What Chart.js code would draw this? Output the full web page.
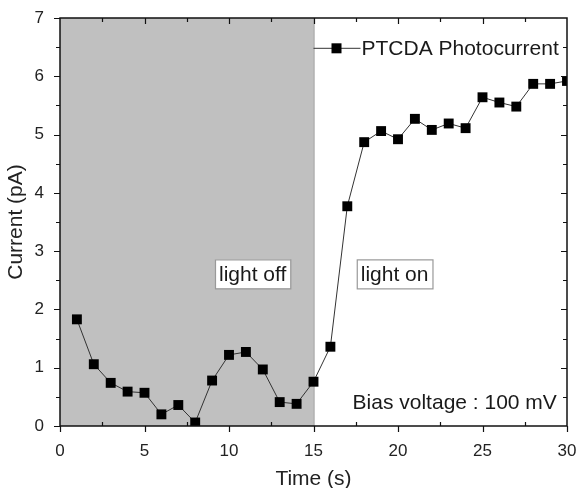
<!DOCTYPE html>
<html>
<head>
<meta charset="utf-8">
<script src="https://cdn.jsdelivr.net/npm/chart.js@4"></script>
<style>
  html, body { margin: 0; padding: 0; background: #fff; }
  #wrap { width: 576px; height: 488px; }
</style>
</head>
<body>
<div id="wrap"><canvas id="chart"></canvas></div>
<script>
// data
const times = [1, 2, 3, 4, 5, 6, 7, 8, 9, 10, 11, 12, 13, 14, 15,
               16, 17, 18, 19, 20, 21, 22, 23, 24, 25, 26, 27, 28, 29, 30];
const current = [1.83, 1.06, 0.74, 0.59, 0.57, 0.20, 0.36, 0.06, 0.78, 1.22, 1.27, 0.97, 0.41, 0.38, 0.76,
                 1.36, 3.77, 4.87, 5.06, 4.92, 5.27, 5.08, 5.19, 5.11, 5.64, 5.55, 5.48, 5.87, 5.87, 5.92];
const seriesName = 'PTCDA Photocurrent';
const darkSpan = [0, 15];
const FONT = '"Liberation Sans", Arial, sans-serif';

const decorations = {
  id: 'decorations',
  beforeDatasetsDraw(chart) {
    const { ctx, chartArea: a, scales: { x } } = chart;
    ctx.save();
    // light-off region
    const x0 = x.getPixelForValue(darkSpan[0]), x1 = x.getPixelForValue(darkSpan[1]);
    ctx.fillStyle = '#c0c0c0';
    ctx.fillRect(x0, a.top, x1 - x0, a.bottom - a.top);
    ctx.strokeStyle = '#8a8a8a';
    ctx.lineWidth = 1;
    ctx.beginPath();
    ctx.moveTo(x1 + 0.5, a.top);
    ctx.lineTo(x1 + 0.5, a.bottom);
    ctx.stroke();
    ctx.restore();
  },
  afterDraw(chart) {
    const { ctx, chartArea: a, scales: { x, y } } = chart;
    ctx.save();
    ctx.strokeStyle = '#111';
    ctx.lineWidth = 1.5;
    // frame
    ctx.strokeRect(a.left, a.top, a.right - a.left, a.bottom - a.top);
    ctx.lineWidth = 1.2;
    ctx.beginPath();
    // x ticks
    for (let v = 0; v <= 30; v += 2.5) {
      const px = Math.round(x.getPixelForValue(v)) + 0.5;
      const major = v % 5 === 0;
      if (major) {
        ctx.moveTo(px, a.bottom); ctx.lineTo(px, a.bottom + 6);
      } else {
        ctx.moveTo(px, a.bottom); ctx.lineTo(px, a.bottom - 4);
      }
      if (v > 0 && v < 30) {
        ctx.moveTo(px, a.top); ctx.lineTo(px, a.top + (major ? 6 : 4));
      }
    }
    // y ticks
    for (let v = 0; v <= 7; v += 0.5) {
      const py = Math.round(y.getPixelForValue(v)) + 0.5;
      const major = v % 1 === 0;
      ctx.moveTo(a.left, py); ctx.lineTo(a.left - (major ? 6 : 4), py);
      if (v > 0 && v < 7) {
        ctx.moveTo(a.right, py); ctx.lineTo(a.right - (major ? 6 : 4), py);
      }
    }
    ctx.stroke();

    // legend
    const ly = y.getPixelForValue(6.48);
    const lx = x.getPixelForValue(15);
    ctx.strokeStyle = '#333';
    ctx.lineWidth = 1;
    ctx.beginPath();
    ctx.moveTo(lx, ly); ctx.lineTo(lx + 47, ly);
    ctx.stroke();
    ctx.fillStyle = '#000';
    ctx.fillRect(lx + 18, ly - 5, 10, 10);
    ctx.font = '21px ' + FONT;
    ctx.fillStyle = '#1a1a1a';
    ctx.textBaseline = 'middle';
    ctx.textAlign = 'left';
    ctx.fillText(seriesName, lx + 48, ly + 1);

    // boxed labels
    const box = (txt, cx, cy) => {
      ctx.font = '21px ' + FONT;
      const w = ctx.measureText(txt).width + 8;
      const h = 29;
      const px = x.getPixelForValue(cx), py = y.getPixelForValue(cy);
      ctx.fillStyle = '#fff';
      ctx.fillRect(px - w / 2, py - h / 2, w, h);
      ctx.strokeStyle = '#999';
      ctx.lineWidth = 1.2;
      ctx.strokeRect(px - w / 2 + 0.5, py - h / 2 + 0.5, w, h);
      ctx.fillStyle = '#1a1a1a';
      ctx.textAlign = 'center';
      ctx.fillText(txt, px, py + 1);
    };
    box('light off', 11.4, 2.61);
    box('light on', 19.8, 2.61);

    ctx.font = '21px ' + FONT;
    ctx.textAlign = 'right';
    ctx.fillStyle = '#1a1a1a';
    ctx.fillText('Bias voltage : 100 mV', x.getPixelForValue(29.4), y.getPixelForValue(0.39));
    ctx.restore();
  }
};

new Chart(document.getElementById('chart'), {
  type: 'scatter',
  data: {
    datasets: [{
      label: seriesName,
      data: times.map((t, i) => ({ x: t, y: current[i] })),
      showLine: true,
      borderColor: '#333',
      borderWidth: 1,
      pointStyle: 'rect',
      pointRadius: 7,
      backgroundColor: '#000',
      pointBorderColor: '#000',
      pointBorderWidth: 0,
    }],
  },
  options: {
    responsive: true,
    maintainAspectRatio: false,
    animation: false,
    layout: { padding: { top: 18, right: 9, left: 0, bottom: 0 } },
    plugins: { legend: { display: false }, tooltip: { enabled: false } },
    scales: {
      x: {
        type: 'linear',
        min: 0, max: 30,
        grid: { display: false },
        border: { display: false },
        ticks: { stepSize: 5, color: '#222', font: { size: 17, family: FONT }, padding: 7 },
        title: { display: true, text: 'Time (s)', color: '#222', font: { size: 21, family: FONT, lineHeight: 0.8 }, padding: { top: 0, bottom: 0 } },
        afterFit(s) { s.height = 62; s.paddingLeft = 0; s.paddingRight = 0; },
      },
      y: {
        min: 0, max: 7,
        grid: { display: false },
        border: { display: false },
        ticks: { stepSize: 1, color: '#222', font: { size: 17, family: FONT }, padding: 8 },
        title: { display: true, text: 'Current (pA)', color: '#222', font: { size: 21, family: FONT }, padding: { top: 4, bottom: 0 } },
        afterFit(s) { s.width = 60; s.paddingTop = 0; s.paddingBottom = 0; },
      },
    },
  },
  plugins: [decorations],
});
</script>
</body>
</html>
